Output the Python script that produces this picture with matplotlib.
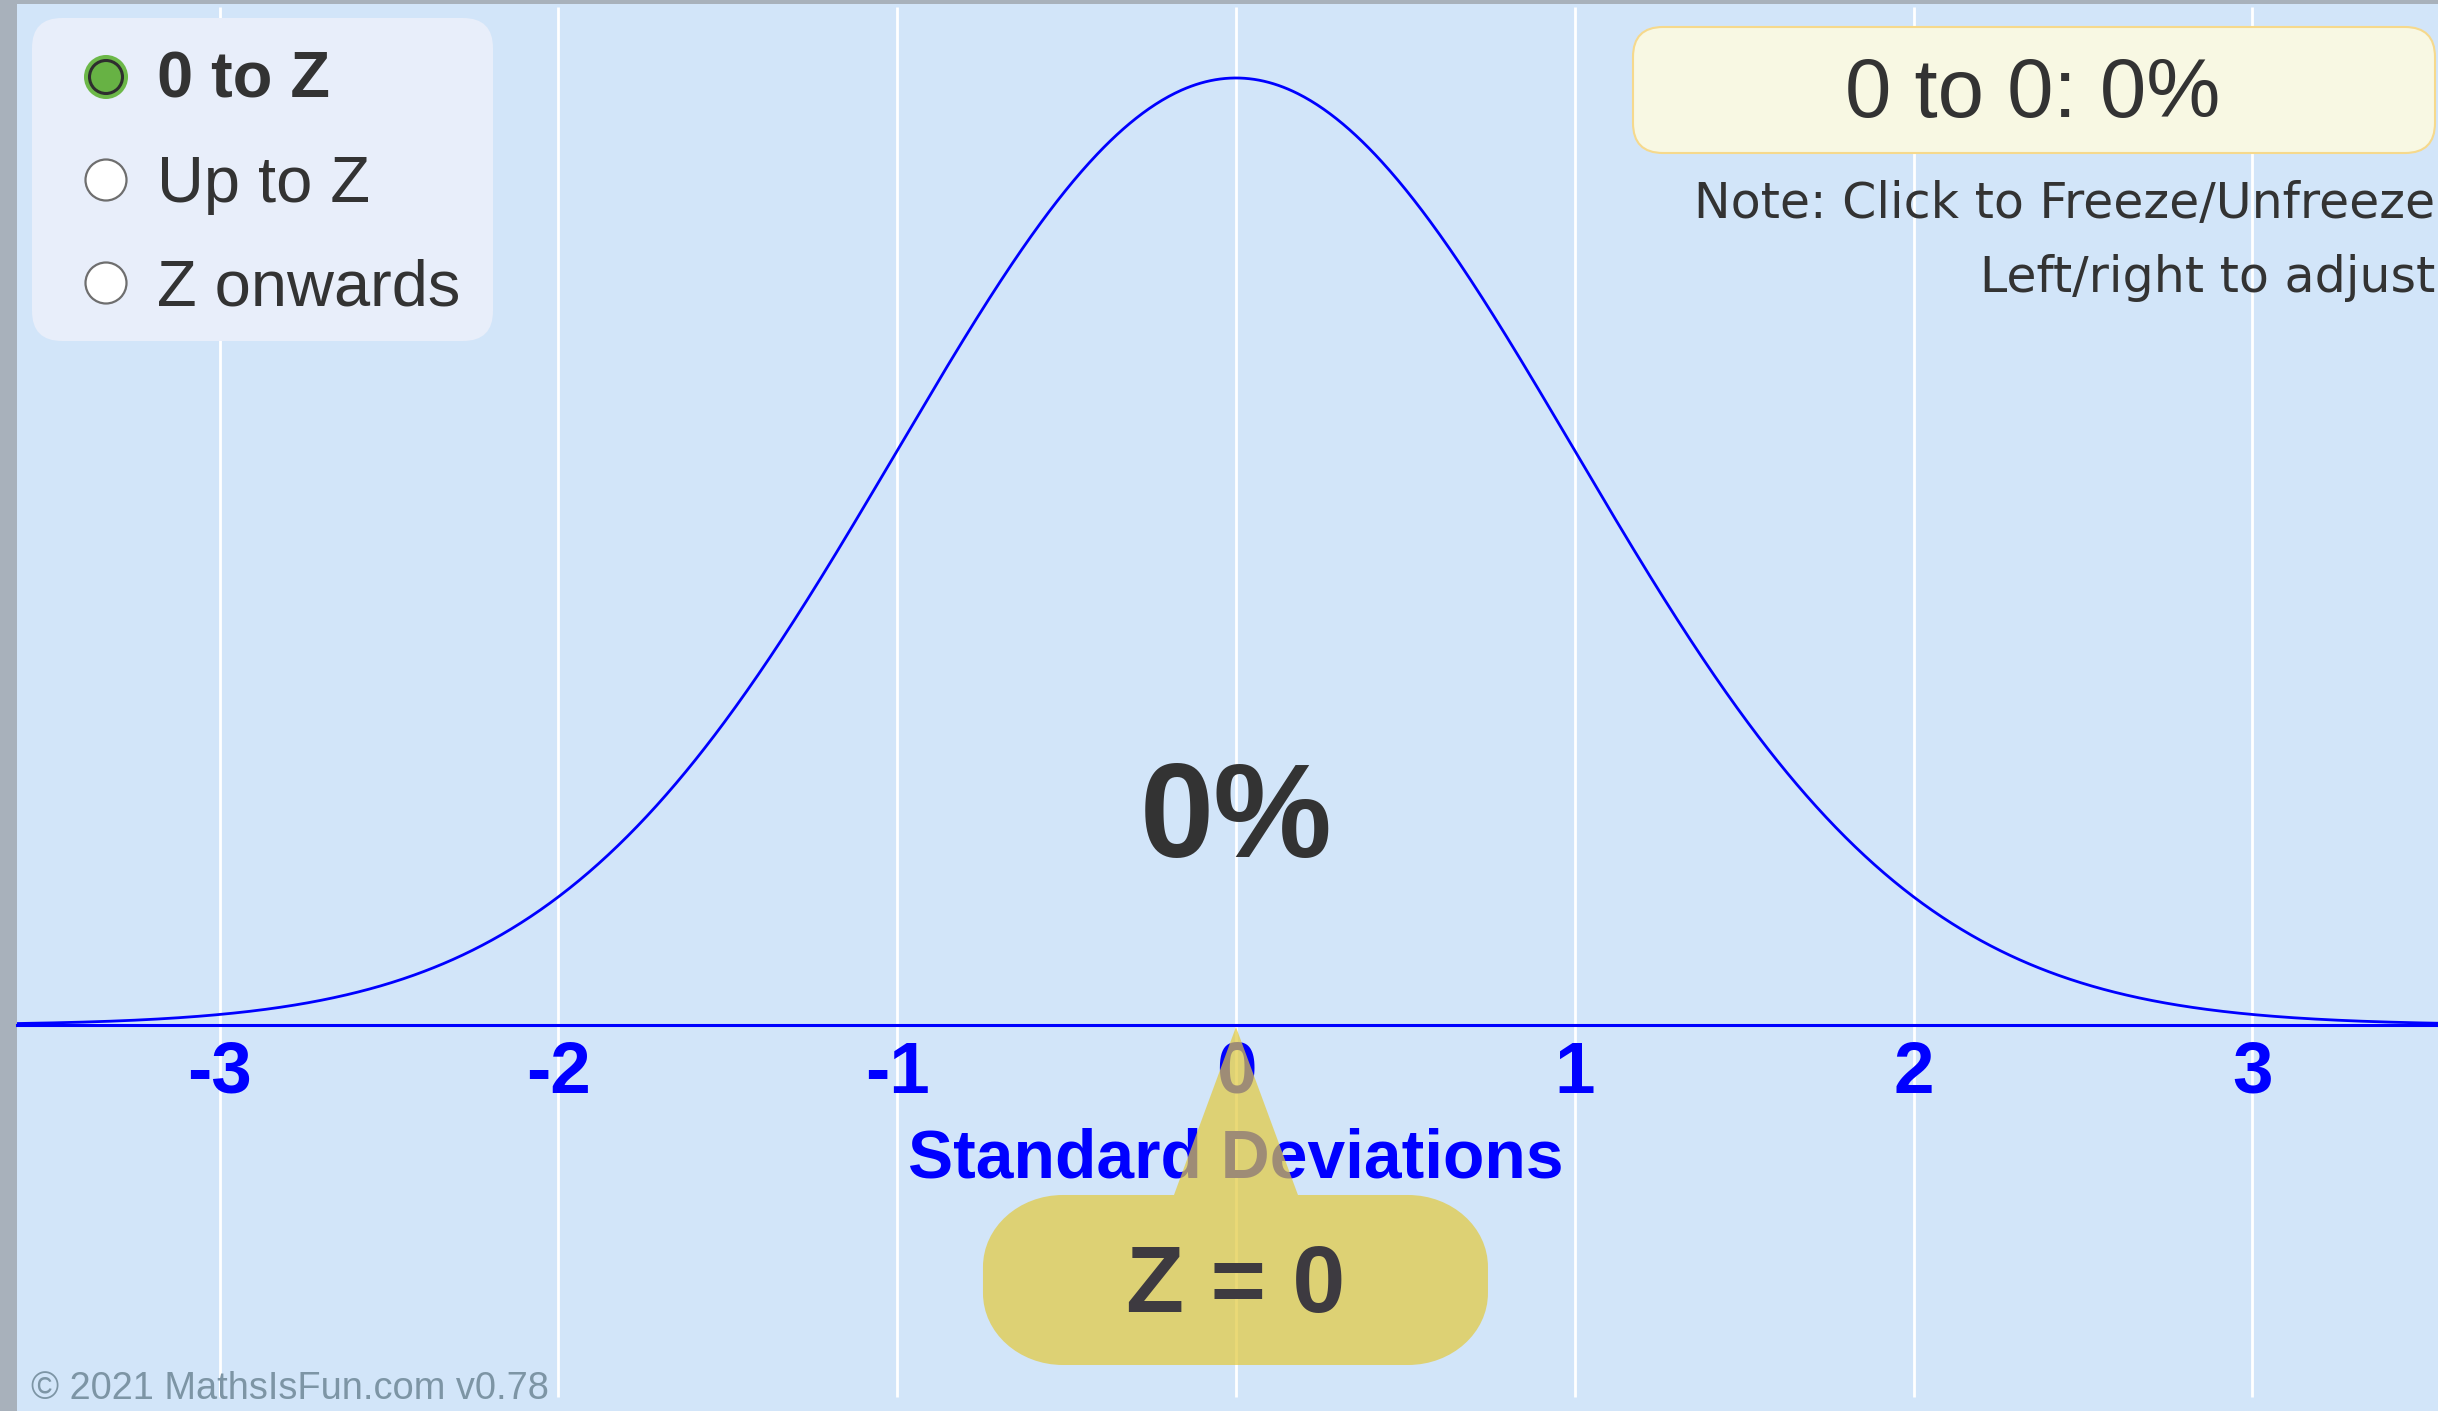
import numpy as np
import matplotlib
matplotlib.use("Agg")
import matplotlib.pyplot as plt
from matplotlib.path import Path
from matplotlib.patches import PathPatch, FancyBboxPatch, Circle
import matplotlib.transforms as mtransforms

# ---------------- data ----------------
MU = 0.0
SIGMA = 1.0
Z = 0.0
SD_TICKS = [-3, -2, -1, 0, 1, 2, 3]
SD_TICK_LABELS = ["-3", "-2", "-1", "0", "1", "2", "3"]
MODES = ["0 to Z", "Up to Z", "Z onwards"]
SELECTED_MODE = 0
AREA_PCT = "0%"
RANGE_LABEL = "0 to 0: 0%"
X_LABEL = "Standard Deviations"
NOTE_LINES = ["Note: Click to Freeze/Unfreeze", "Left/right to adjust"]
CREDIT = "\u00a9 2021 MathsIsFun.com v0.78"

# ---------------- style ----------------
plt.rcParams['font.family'] = ['Liberation Sans', 'DejaVu Sans']
W, H, DPI = 2438, 1411, 100
BG = "#d2e5f9"
BLUE = "#0000ff"
DARK = "#333333"

fig = plt.figure(figsize=(W / DPI, H / DPI), dpi=DPI, facecolor="#a8b1bb")

ax = fig.add_axes([17 / W, 0, (W - 17) / W, (H - 4) / H])
ax.set_facecolor(BG)
XMIN, XMAX = -3.598, 3.548
YMIN, YMAX = -0.16261, 0.43011
ax.set_xlim(XMIN, XMAX)
ax.set_ylim(YMIN, YMAX)

# vertical white grid lines
ax.vlines(SD_TICKS, -0.1567, 0.4289, colors="white", lw=2.0, zorder=1)

# normal curve
xs = np.linspace(XMIN, XMAX, 1500)
ys = np.exp(-0.5 * ((xs - MU) / SIGMA) ** 2) / (SIGMA * np.sqrt(2 * np.pi))
ax.plot(xs, ys, color=BLUE, lw=2.0, zorder=3, solid_capstyle="butt")

# axis line at y = 0 with labels
for s in ["top", "left", "right"]:
    ax.spines[s].set_visible(False)
ax.spines["bottom"].set_position(("data", 0))
ax.spines["bottom"].set_color(BLUE)
ax.spines["bottom"].set_linewidth(2.2)
ax.spines["bottom"].set_zorder(3)
ax.set_yticks([])
ax.set_xticks(SD_TICKS, SD_TICK_LABELS, fontweight="bold")
ax.tick_params(axis="x", length=0, pad=10.5, labelsize=52.5, labelcolor=BLUE)
ax.set_xlabel(X_LABEL, fontsize=48.8, fontweight="bold", color=BLUE,
              labelpad=14.5, x=(0 - XMIN) / (XMAX - XMIN))

# area percentage
ax.text(0, 0.0708, AREA_PCT, ha="center", va="baseline", fontsize=96,
        fontweight="bold", color=DARK, zorder=4)

# Z balloon (pixel offsets from the point (Z, 0))
Lx, Rx, T, B, rx, ry, hb, apex = -253, 252, -170, -340, 80, 72, 62, -2
k = 0.5523
verts = [(Lx + rx, T), (-hb, T), (0, apex), (hb, T), (Rx - rx, T),
         (Rx - rx + k * rx, T), (Rx, T - ry + k * ry), (Rx, T - ry),
         (Rx, B + ry),
         (Rx, B + ry - k * ry), (Rx - rx + k * rx, B), (Rx - rx, B),
         (Lx + rx, B),
         (Lx + rx - k * rx, B), (Lx, B + ry - k * ry), (Lx, B + ry),
         (Lx, T - ry),
         (Lx, T - ry + k * ry), (Lx + rx - k * rx, T), (Lx + rx, T),
         (Lx + rx, T)]
codes = ([Path.MOVETO] + [Path.LINETO] * 4 + [Path.CURVE4] * 3 + [Path.LINETO]
         + [Path.CURVE4] * 3 + [Path.LINETO] + [Path.CURVE4] * 3 + [Path.LINETO]
         + [Path.CURVE4] * 3 + [Path.CLOSEPOLY])
btrans = mtransforms.Affine2D() + mtransforms.ScaledTranslation(Z, 0, ax.transData)
balloon = PathPatch(Path(verts, codes), transform=btrans,
                    facecolor=(226 / 255, 201 / 255, 60 / 255),
                    alpha=0.7, edgecolor="none", zorder=10, clip_on=False)
ax.add_patch(balloon)
ax.text(Z, -0.1209, f"Z = {Z:g}", ha="center", va="baseline", fontsize=68.4,
        fontweight="bold", color="#3d3a40", zorder=11)

# ---------------- UI overlay in pixel coordinates ----------------
ui = fig.add_axes([0, 0, 1, 1], zorder=5)
ui.set_xlim(0, W)
ui.set_ylim(H, 0)
ui.axis("off")
ui.patch.set_alpha(0)

# mode selector box
ui.add_patch(FancyBboxPatch((32, 18), 461, 323, boxstyle="round,pad=0,rounding_size=30",
                            fc="#e8eefa", ec="none"))
radio_y = [77, 180, 283]
base_y = [98, 202, 305]
for i, (label, cy, by) in enumerate(zip(MODES, radio_y, base_y)):
    if i == SELECTED_MODE:
        ui.add_patch(Circle((106, cy), 22, fc="#6cb848", ec="none"))
        ui.add_patch(Circle((106, cy), 16.5, fc="#67b244", ec="#2e2e2e", lw=2.2))
        ui.text(157, by, label, ha="left", va="baseline", fontsize=46.8,
                fontweight="bold", color=DARK)
    else:
        ui.add_patch(Circle((106, cy), 20.5, fc="white", ec="#6e6e6e", lw=1.6))
        ui.text(157, by, label, ha="left", va="baseline", fontsize=46.8, color=DARK)

# range readout box
ui.add_patch(FancyBboxPatch((1633, 27), 802, 126, boxstyle="round,pad=0,rounding_size=30",
                            fc="#f8f8e3", ec="#f6d98c", lw=1.5))
ui.text(2033, 117, RANGE_LABEL, ha="center", va="baseline", fontsize=60, color=DARK)
ui.text(2435, 218, NOTE_LINES[0], ha="right", va="baseline", fontsize=35.3,
        family="DejaVu Sans", color=DARK)
ui.text(2435, 292, NOTE_LINES[1], ha="right", va="baseline", fontsize=35.3,
        family="DejaVu Sans", color=DARK)

# credit
ui.text(31, 1399, CREDIT, ha="left", va="baseline", fontsize=27.4, color="#7d95a5")

fig.savefig("out.png", dpi=DPI, facecolor=fig.get_facecolor())
